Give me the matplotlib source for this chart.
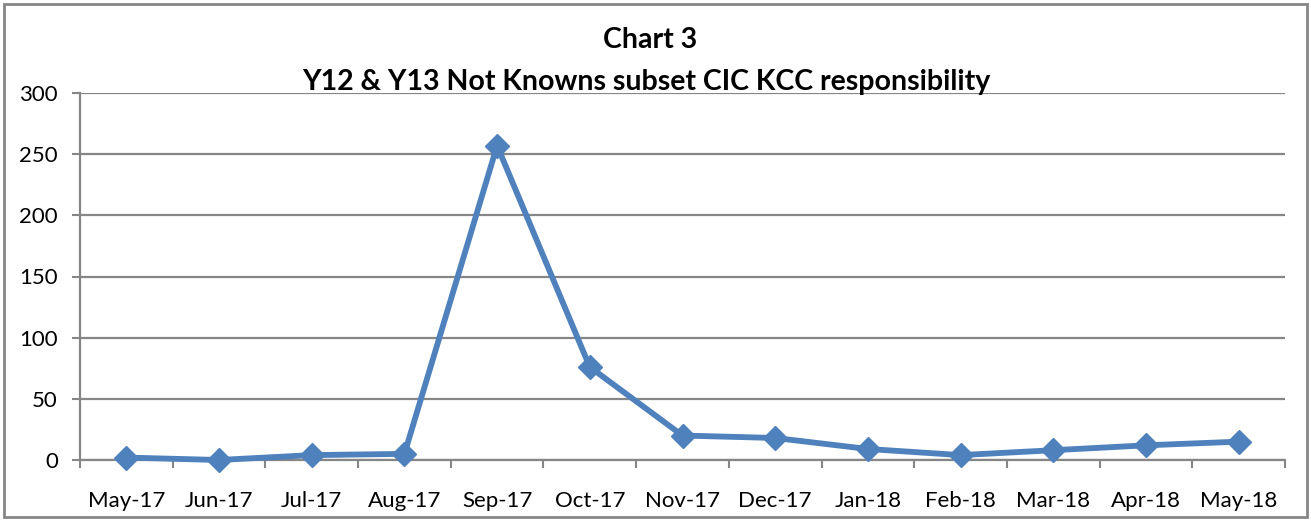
import matplotlib.pyplot as plt
from matplotlib.patches import Rectangle

# data
months = ["May-17", "Jun-17", "Jul-17", "Aug-17", "Sep-17", "Oct-17", "Nov-17",
          "Dec-17", "Jan-18", "Feb-18", "Mar-18", "Apr-18", "May-18"]
not_knowns = [2, 0, 4, 5, 257, 76, 20, 18, 9, 4, 8, 12, 15]

plt.rcParams['font.family'] = ['Lato', 'DejaVu Sans']

fig = plt.figure(figsize=(13.11, 5.2), dpi=100)
ax = fig.add_axes([80 / 1311, 1 - 460 / 520, 1205 / 1311, 367 / 520])

x = list(range(len(months)))
ax.plot(x, not_knowns, color='#4F81BD', linewidth=4.2, marker='D',
        markersize=12, markerfacecolor='#4F81BD', markeredgecolor='#4F81BD',
        zorder=3, clip_on=False)

ax.set_xlim(-0.5, len(months) - 0.5)
ax.set_ylim(0, 300)
ax.set_yticks(range(0, 301, 50))
ax.set_xticks(x)
ax.set_xticklabels(months, fontsize=16)
ax.set_xticks([i - 0.5 for i in range(len(months) + 1)], minor=True)
ax.tick_params(axis='x', which='major', length=0, pad=22)
ax.tick_params(axis='x', which='minor', length=6, width=1.5, color='#868686', direction='out')
ax.tick_params(axis='y', length=6, width=1.5, color='#868686', labelsize=16, pad=10)

ax.grid(axis='y', color='#868686', linewidth=1.6, zorder=0)
ax.set_axisbelow(True)
for side in ['top', 'right']:
    ax.spines[side].set_visible(False)
for side in ['left', 'bottom']:
    ax.spines[side].set_color('#868686')
    ax.spines[side].set_linewidth(1.6)

fig.text(650 / 1311, 1 - 40 / 520, "Chart 3", ha='center', va='center',
         fontsize=20.5, fontweight='bold')
fig.text(646 / 1311, 1 - 82 / 520, "Y12 & Y13 Not Knowns subset CIC KCC responsibility",
         ha='center', va='center', fontsize=20.5, fontweight='bold', zorder=5)

# outer chart border
fig.patches.append(Rectangle((4 / 1311, 3 / 520), 1303 / 1311, 513 / 520,
                             transform=fig.transFigure, fill=False,
                             edgecolor='#868686', linewidth=2))

plt.savefig('out.png', dpi=100)
